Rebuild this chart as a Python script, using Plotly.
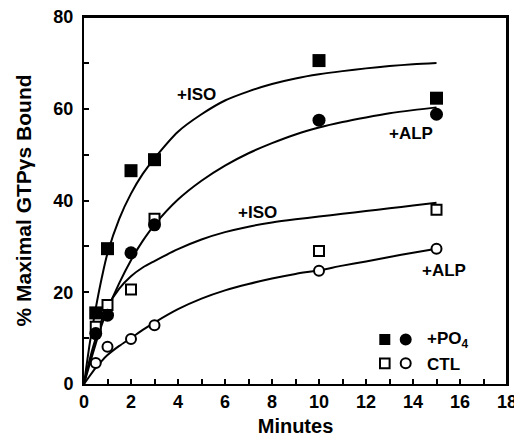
import plotly.graph_objects as go

# ---- data ----
t_pts = [0.5, 1, 2, 3, 10, 15]
iso_po4 = [15.5, 29.5, 46.5, 48.9, 70.5, 62.3]      # filled squares
alp_po4 = [11.0, 15.0, 28.6, 34.7, 57.5, 58.8]      # filled circles
iso_ctl = [12.5, 17.2, 20.6, 36.0, 29.0, 38.0]      # open squares
alp_ctl = [4.6, 8.1, 9.8, 12.8, 24.7, 29.5]         # open circles

t_fit = [0, 0.25, 0.5, 0.75, 1, 1.5, 2, 2.5, 3, 4, 5, 6, 7, 8, 9, 10, 11, 12, 13, 14, 15]
fit_iso_po4 = [0, 9, 16.5, 23, 28.5, 36, 41.5, 45.8, 49.2, 55, 58.8, 61.8, 63.8, 65.4, 66.6, 67.5, 68.2, 68.8, 69.3, 69.7, 70.0]
fit_alp_po4 = [0, 4.5, 8.8, 12.8, 16.2, 22, 27, 31.2, 34.7, 40.2, 44.3, 47.6, 50.3, 52.5, 54.4, 55.9, 57.1, 58.1, 59.0, 59.7, 60.3]
fit_iso_ctl = [0, 5.5, 10, 13.8, 16.8, 20.8, 23.5, 25.4, 26.8, 29.4, 31.5, 33.1, 34.3, 35.2, 35.9, 36.5, 37.1, 37.7, 38.3, 38.9, 39.5]
fit_alp_ctl = [0, 1.8, 3.5, 5, 6.3, 8.3, 10, 11.8, 13.4, 16.3, 18.6, 20.4, 21.8, 23, 24, 24.8, 25.8, 26.7, 27.7, 28.6, 29.5]

x_ticks = [0, 2, 4, 6, 8, 10, 12, 14, 16, 18]
y_ticks = [0, 20, 40, 60, 80]

FONT = "Liberation Sans, Arial, sans-serif"
BLACK = "black"

fig = go.Figure()

for yfit in [fit_iso_po4, fit_alp_po4, fit_iso_ctl, fit_alp_ctl]:
    fig.add_trace(go.Scatter(x=t_fit, y=yfit, mode="lines",
                             line=dict(color=BLACK, width=2, shape="spline", smoothing=0.8),
                             hoverinfo="skip", cliponaxis=False))

fig.add_trace(go.Scatter(x=t_pts, y=iso_ctl, mode="markers",
                         marker=dict(symbol="square", size=10, color="white",
                                     line=dict(color=BLACK, width=2)), cliponaxis=False))
fig.add_trace(go.Scatter(x=t_pts, y=alp_ctl, mode="markers",
                         marker=dict(symbol="circle", size=10, color="white",
                                     line=dict(color=BLACK, width=2)), cliponaxis=False))
fig.add_trace(go.Scatter(x=t_pts, y=iso_po4, mode="markers",
                         marker=dict(symbol="square", size=13, color=BLACK,
                                     line=dict(width=0)), cliponaxis=False))
fig.add_trace(go.Scatter(x=t_pts, y=alp_po4, mode="markers",
                         marker=dict(symbol="circle", size=13, color=BLACK,
                                     line=dict(width=0)), cliponaxis=False))

# frame around the plotting area (top and right sides drawn explicitly)
fig.add_shape(type="line", xref="paper", yref="paper", x0=0, x1=1, y0=1, y1=1,
              line=dict(color=BLACK, width=2), layer="above")
fig.add_shape(type="line", xref="paper", yref="paper", x0=1, x1=1, y0=0, y1=1,
              line=dict(color=BLACK, width=2), layer="above")

# curve labels
labels = [("+ISO", 4.8, 63.0), ("+ALP", 13.9, 54.7), ("+ISO", 7.4, 37.3), ("+ALP", 15.3, 24.7)]
for txt, lx, ly in labels:
    fig.add_annotation(x=lx, y=ly, text=txt, showarrow=False,
                       font=dict(family=FONT, size=17, color=BLACK, weight="bold"))

# key (legend) drawn as shapes + text
def key_shape(kind, xa, ya, filled, half):
    fig.add_shape(type=kind, xref="x", yref="y", xsizemode="pixel", ysizemode="pixel",
                  xanchor=xa, yanchor=ya, x0=-half, x1=half, y0=-half, y1=half,
                  fillcolor=BLACK if filled else "white",
                  line=dict(color=BLACK, width=0 if filled else 2))

key_shape("rect", 12.8, 9.7, True, 5.5)
key_shape("circle", 13.69, 9.7, True, 6)
key_shape("rect", 12.8, 4.5, False, 4.8)
key_shape("circle", 13.69, 4.5, False, 5)
fig.add_annotation(x=14.5, y=9.7, xanchor="left", text="+PO<sub>4</sub>", showarrow=False,
                   font=dict(family=FONT, size=17, color=BLACK, weight="bold"))
fig.add_annotation(x=14.5, y=4.3, xanchor="left", text="CTL", showarrow=False,
                   font=dict(family=FONT, size=17, color=BLACK, weight="bold"))

axis_common = dict(showline=True, linewidth=2, linecolor=BLACK, mirror=True,
                   showgrid=False, zeroline=False, ticks="inside", ticklen=5,
                   tickwidth=2, tickcolor=BLACK, ticklabeloverflow="allow",
                   tickfont=dict(family=FONT, size=18, color=BLACK, weight="bold"))

fig.update_xaxes(range=[0, 18], tickvals=x_ticks, ticktext=[str(v) for v in x_ticks],
                 minor=dict(dtick=1, ticks="inside", ticklen=5, tickwidth=2, tickcolor=BLACK),
                 title=dict(text="Minutes", standoff=8,
                            font=dict(family=FONT, size=20, color=BLACK, weight="bold")),
                 **axis_common)
fig.update_yaxes(range=[0, 80], tickvals=y_ticks, ticktext=[str(v) for v in y_ticks],
                 minor=dict(dtick=10, ticks="inside", ticklen=5, tickwidth=2, tickcolor=BLACK),
                 ticklabelstandoff=5,
                 title=dict(text="% Maximal GTPγs Bound", standoff=16,
                            font=dict(family=FONT, size=21, color=BLACK, weight="bold")),
                 **axis_common)

# the page body adds an 8px offset; margins are trimmed on the top/left to compensate
fig.update_layout(width=522, height=442, margin=dict(l=76, r=23, t=9, b=66, autoexpand=False),
                  plot_bgcolor="white", paper_bgcolor="white", showlegend=False)

fig.write_html("out.html")
